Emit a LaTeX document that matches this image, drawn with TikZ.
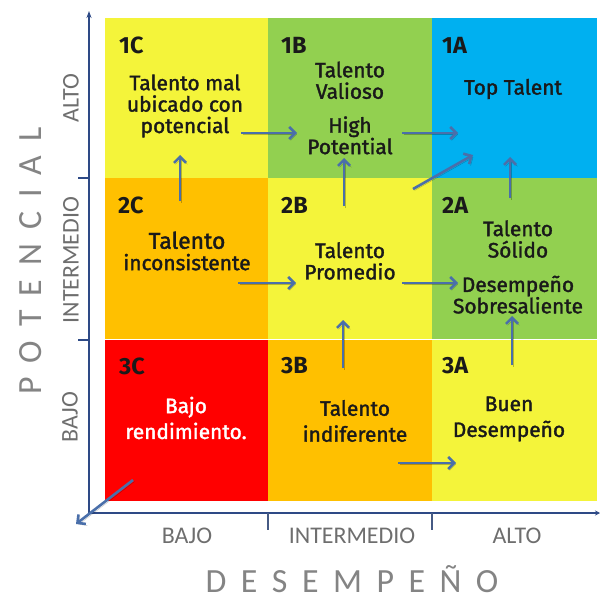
\documentclass[tikz,border=0pt]{standalone}
\usepackage{fontspec}
\setmainfont{Fira Sans}
\newfontfamily\bodyfont{Fira Sans}[FakeBold=1.6]
\newfontfamily\axisfont{Carlito}
\usetikzlibrary{arrows.meta}
\definecolor{cyel}{HTML}{F4F43A}
\definecolor{cgrn}{HTML}{92D050}
\definecolor{cblu}{HTML}{00B0F0}
\definecolor{cora}{HTML}{FFC000}
\definecolor{cred}{HTML}{FF0000}
\definecolor{axc}{HTML}{2E4A86}
\definecolor{arrc}{HTML}{4A6FAA}
\definecolor{txtg}{HTML}{6E6E6E}
\definecolor{ink}{HTML}{1A1A1A}
\tikzset{
  cell/.style={anchor=north west, inner sep=0pt, minimum width=164bp, minimum height=161bp},
  lbl/.style={anchor=west, inner sep=0pt, text=ink, font=\fontsize{23.5}{26}\selectfont\bfseries},
  body/.style={align=center, inner sep=0pt, text=ink, font=\bodyfont\fontsize{21}{21.5}\selectfont},
  arr/.style={draw=arrc, line width=2.6bp, -{Straight Barb[length=6bp,width=12bp]},
    preaction={draw=black, opacity=0.25, transform canvas={shift={(1.5bp,-1.5bp)}}}},
  axis/.style={draw=axc, line width=1.5bp},
  axlbl/.style={inner sep=0pt, text=txtg, font=\axisfont\fontsize{24}{26}\selectfont},
  bigl/.style={inner sep=0pt, text=txtg!85, font=\axisfont\fontsize{34}{36}\selectfont}
}
\begin{document}
\begin{tikzpicture}[x=1bp,y=-1bp]
\useasboundingbox (0,0) rectangle (600,599);
% cells
\node[cell, fill=cyel] (c1C) at (105,18) {};
\node[cell, fill=cgrn] (c1B) at (268,18) {};
\node[cell, fill=cblu, minimum width=165bp] (c1A) at (432,18) {};
\node[cell, fill=cora] (c2C) at (105,178) {};
\node[cell, fill=cyel] (c2B) at (268,178) {};
\node[cell, fill=cgrn, minimum width=165bp] (c2A) at (432,178) {};
\node[cell, fill=cred] (c3C) at (105,340) {};
\node[cell, fill=cora] (c3B) at (268,340) {};
\node[cell, fill=cyel, minimum width=165bp] (c3A) at (432,340) {};
% labels
\node[lbl] (l1C) at (119,45) {1C};
\node[lbl] (l1B) at (281,45) {1B};
\node[lbl] (l1A) at (442,45) {1A};
\node[lbl] (l2C) at (118,205) {2C};
\node[lbl] (l2B) at (281,205) {2B};
\node[lbl] (l2A) at (442,205) {2A};
\node[lbl] (l3C) at (119,366) {3C};
\node[lbl] (l3B) at (281,366) {3B};
\node[lbl] (l3A) at (442,366) {3A};
% body texts
\node[body] (t1C) at (185,106) {Talento mal\\ubicado con\\potencial};
\node[body] (t1B) at (350,108) {Talento\\Valioso\\[12.5bp]High\\Potential};
\node[body] (t1A) at (513,89) {Top Talent};
\node[body] (t2C) at (187,251) {{\fontsize{23}{24}\selectfont Talento}\\inconsistente};
\node[body] (t2B) at (350,261) {Talento\\Promedio};
\node[body] (t2A) at (518,267) {Talento\\Sólido\\[13bp]Desempeño\\Sobresaliente};
\node[body, text=white, font=\bodyfont\fontsize{21}{26}\selectfont] (t3C) at (186,418) {Bajo\\rendimiento.};
\node[body, font=\bodyfont\fontsize{21}{26}\selectfont] (t3B) at (355,421) {Talento\\indiferente};
\node[body, font=\bodyfont\fontsize{21}{26}\selectfont] (t3A) at (509,419) {Buen\\Desempeño};
% axes
\coordinate (O) at (89,513);
\coordinate (ytop) at (89,11);
\coordinate (xend) at (600,513);
\draw[axis, -{Stealth[length=7bp,width=5bp]}] (O) -- (ytop);
\draw[axis, -{Stealth[length=5bp,width=5bp]}] (O) -- (xend);
\coordinate (ty1) at (78,178); \coordinate (ty1e) at (89,178);
\coordinate (ty2) at (78,340); \coordinate (ty2e) at (89,340);
\coordinate (tx1) at (268,513); \coordinate (tx1e) at (268,530);
\coordinate (tx2) at (432,513); \coordinate (tx2e) at (432,530);
\draw[axis] (ty1) -- (ty1e);
\draw[axis] (ty2) -- (ty2e);
\draw[draw=axc!70!gray, line width=1.3bp] (tx1) -- (tx1e);
\draw[draw=axc!70!gray, line width=1.3bp] (tx2) -- (tx2e);
% axis labels
\node[axlbl, rotate=90] (yl3) at (71,98) {ALTO};
\node[axlbl, rotate=90] (yl2) at (71,260) {INTERMEDIO};
\node[axlbl, rotate=90] (yl1) at (70,417) {BAJO};
\node[axlbl] (xl1) at (187,536) {BAJO};
\node[axlbl] (xl2) at (352,536) {INTERMEDIO};
\node[axlbl] (xl3) at (517,536) {ALTO};
\node[bigl, rotate=90] (ytitle) at (31,261) {P\kern14bp O\kern14bp T\kern14bp E\kern14bp N\kern14bp C\kern14bp I\kern14bp A\kern14bp L};
\node[bigl] (xtitle) at (352,579) {D\kern14.5bp E\kern14.5bp S\kern14.5bp E\kern14.5bp M\kern14.5bp P\kern14.5bp E\kern14.5bp Ñ\kern14.5bp O};
% arrow end points
\coordinate (a1s) at (241,133); \coordinate (a1e) at (297,133);
\coordinate (a2s) at (180,201); \coordinate (a2e) at (180,155);
\coordinate (a3s) at (402,133); \coordinate (a3e) at (458,133);
\coordinate (a4s) at (344,206); \coordinate (a4e) at (344,158);
\coordinate (a5s) at (413,189); \coordinate (a5e) at (473,155);
\coordinate (a6s) at (510,198); \coordinate (a6e) at (510,157);
\coordinate (a7s) at (238,283); \coordinate (a7e) at (296,283);
\coordinate (a8s) at (402,283); \coordinate (a8e) at (458,283);
\coordinate (a9s) at (343,368); \coordinate (a9e) at (343,320);
\coordinate (a10s) at (512,365); \coordinate (a10e) at (512,316);
\coordinate (a11s) at (398,463); \coordinate (a11e) at (456,463);
\coordinate (a12s) at (133,480); \coordinate (a12e) at (76,524);
\foreach \i in {1,...,12} \draw[arr] (a\i s) -- (a\i e);
\end{tikzpicture}
\end{document}
